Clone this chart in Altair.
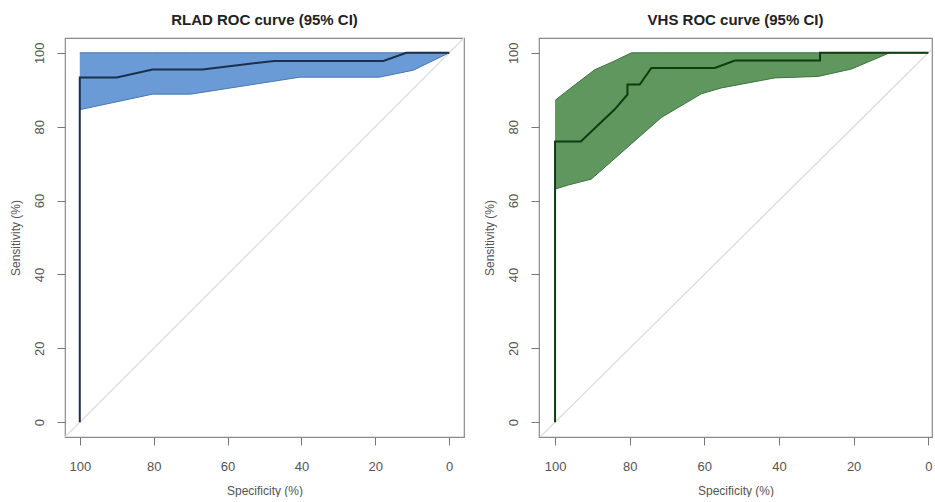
import altair as alt
import pandas as pd

# ---- data ----
tick_values = [0, 20, 40, 60, 80, 100]

rlad_curve_spec = [100, 100, 90, 80.3, 66.8, 47.4, 17.8, 11.6, 0]
rlad_curve_sens = [0, 93.3, 93.3, 95.5, 95.5, 97.8, 97.8, 100, 100]
# 95% CI band, read at common specificity points
rlad_band_spec = [100, 80.3, 70, 40.4, 18.9, 9.7, 0]
rlad_band_lower = [84.6, 88.8, 88.8, 93.4, 93.4, 95.3, 100]
rlad_band_upper = [100, 100, 100, 100, 100, 100, 100]

vhs_curve_spec = [100, 100, 93.1, 84, 80.6, 80.6, 77.3, 74.2, 57.2, 51.8, 29, 29, 0]
vhs_curve_sens = [0, 76, 76, 84.7, 88.7, 91.4, 91.4, 95.9, 95.9, 97.9, 97.9, 100, 100]
vhs_band_spec = [100, 97.4, 96.5, 90.3, 89.4, 84.9, 79.5, 71.5, 60.8, 55.4, 41.1, 29.5, 20.6, 10.3, 0]
vhs_band_lower = [63.1, 63.9, 64.2, 65.8, 66.6, 70.6, 75.4, 82.5, 88.9, 90.5, 93.2, 93.6, 95.6, 100, 100]
vhs_band_upper = [87.1, 89.2, 89.9, 94.7, 95.4, 97.4, 100, 100, 100, 100, 100, 100, 100, 100, 100]

diag_spec = [104, -4]
diag_sens = [-4, 104]

FONT = "Liberation Sans"


def frame(spec, sens):
    return pd.DataFrame({"spec": spec, "sens": sens, "i": list(range(len(spec)))})


def panel(title, cs, cy, bs, blo, bhi, fill, edge, line_color, xdomain, width):
    xs = alt.Scale(domain=xdomain, reverse=True, nice=False, zero=False)
    ys = alt.Scale(domain=[-4, 104], nice=False, zero=False)
    xaxis = alt.Axis(values=tick_values, domain=False, grid=False, tickSize=8,
                     tickColor="#777", tickWidth=1, labelColor="#555",
                     labelFont=FONT, labelFontSize=13, labelPadding=15,
                     title="Specificity (%)", titleFont=FONT, titleFontSize=12,
                     titleFontWeight="normal", titleColor="#555", titlePadding=12)
    yaxis = alt.Axis(values=tick_values, domain=False, grid=False, tickSize=8,
                     tickColor="#777", tickWidth=1, labelColor="#555",
                     labelFont=FONT, labelFontSize=13, labelPadding=11,
                     labelAngle=-90, labelAlign="center", labelBaseline="bottom",
                     title="Sensitivity (%)", titleFont=FONT, titleFontSize=12,
                     titleFontWeight="normal", titleColor="#555", titlePadding=11)

    X = alt.X("spec:Q", scale=xs, axis=xaxis)
    Y = alt.Y("sens:Q", scale=ys, axis=yaxis)

    band_df = pd.DataFrame({"spec": bs, "lo": blo, "hi": bhi, "i": list(range(len(bs)))})
    band = alt.Chart(band_df).mark_area(color=fill, opacity=1).encode(
        x=X, y=alt.Y("lo:Q", scale=ys, axis=yaxis), y2="hi:Q")
    lower_edge = alt.Chart(band_df).mark_line(color=edge, strokeWidth=1).encode(
        x=X, y=alt.Y("lo:Q", scale=ys, axis=yaxis), order="i:Q")
    upper_edge = alt.Chart(band_df).mark_line(color=edge, strokeWidth=1).encode(
        x=X, y=alt.Y("hi:Q", scale=ys, axis=yaxis), order="i:Q")
    diag = alt.Chart(frame(diag_spec, diag_sens)).mark_line(
        color="#e0e0e0", strokeWidth=1.5, clip=True).encode(
        x=X, y=Y, order="i:Q")
    curve = alt.Chart(frame(cs, cy)).mark_line(color=line_color, strokeWidth=2).encode(
        x=X, y=Y, order="i:Q")

    return alt.layer(diag, band, lower_edge, upper_edge, curve).properties(
        width=width, height=399,
        title=alt.TitleParams(title, font=FONT, fontSize=15, fontWeight="bold",
                              color="#222", frame="group", anchor="middle", offset=10))


left = panel("RLAD ROC curve (95% CI)", rlad_curve_spec, rlad_curve_sens,
             rlad_band_spec, rlad_band_lower, rlad_band_upper,
             "#6b9bd6", "#4a78b0", "#1b2f4a", [-4, 104], 399)
right = panel("VHS ROC curve (95% CI)", vhs_curve_spec, vhs_curve_sens,
              vhs_band_spec, vhs_band_lower, vhs_band_upper,
              "#5f975f", "#3f7440", "#0d3d10", [-1, 104.3], 393)

chart = alt.hconcat(left, right, spacing=17).properties(
    padding={"left": 8, "top": 12, "right": 0, "bottom": 0},
    background="white",
).configure_view(stroke="#8a8a8a", strokeWidth=1.2)

chart.save("out.html", embed_options={"renderer": "svg", "actions": False})
